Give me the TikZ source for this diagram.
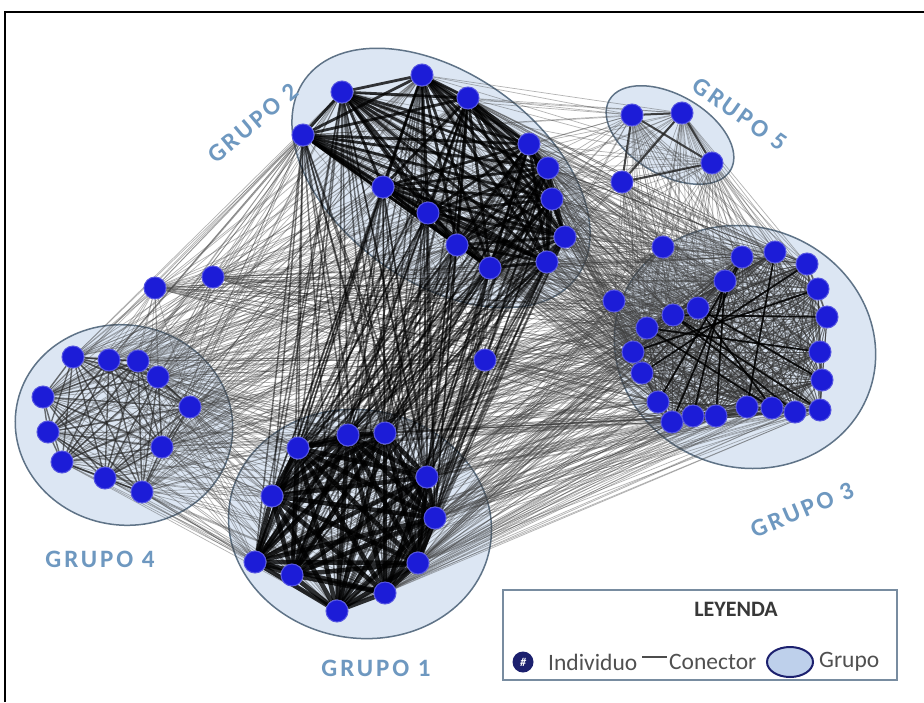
\documentclass[tikz,border=0pt]{standalone}
\usepackage{fontspec}
\usetikzlibrary{shapes.geometric}
\setmainfont{Carlito}
\newfontfamily\grpfont[LetterSpace=12]{Carlito}
\pgfdeclarelayer{bgl}
\pgfdeclarelayer{edgel}
\pgfsetlayers{bgl,edgel,main}
\definecolor{nodeblue}{RGB}{28,28,215}
\definecolor{grpfill}{RGB}{220,230,243}
\definecolor{grpline}{RGB}{95,115,135}
\definecolor{lblblue}{RGB}{110,152,192}
\definecolor{legline}{RGB}{120,140,160}
\definecolor{legtxt}{RGB}{80,80,80}
\definecolor{legnavy}{RGB}{28,32,110}
\definecolor{legfill}{RGB}{190,208,235}
\newcommand\linkall[3]{\foreach \u in #1 {\foreach \v in #2 {\draw[#3] (\u) -- (\v);}}}
\newcommand\mkclique[3]{\foreach \i in {1,...,#2}{\foreach \j in {\i,...,#2}{\ifnum\j>\i\relax\draw[#3] (#1\i) -- (#1\j);\fi}}}
\def\GA{a1,a2,a3,a4,a5,a6,a7,a8,a9,a10,a11}
\def\GB{b1,b2,b3,b4,b5,b6,b7,b8,b9,b10,b11,b12,b13}
\def\GC{c1,c2,c3,c4,c5,c6,c7,c8,c9,c10,c11,c12,c13,c14,c15,c16,c17,c18,c19,c20,c21}
\def\GD{d1,d2,d3,d4,d5,d6,d7,d8,d9,d10,d11}
\def\GE{e1,e2,e3,e4}
\def\GDx{d12,d13}
\def\GDr{d3,d4,d5,d11,d12,d13}
\def\GCl{c15,c16,c17,c18,c19,c20,c21,c1,c14}
\def\Fone{f1}
\def\Frest{f2,f3}
\begin{document}
\begin{tikzpicture}[x=1pt,y=-1pt,
  ind/.style={circle, fill=nodeblue, draw=nodeblue!75!white, line width=1pt, minimum size=22pt, inner sep=0pt},
  grp/.style={fill=grpfill, draw=grpline, line width=1.5pt},
  grplbl/.style={text=lblblue, font=\grpfont\bfseries\fontsize{25}{27}\selectfont, inner sep=0pt},
  eoneA/.style={line width=4.6pt, black, opacity=.8},
  etwoA/.style={line width=2.8pt, black, opacity=.78},
  ethreeA/.style={line width=1pt, black!80, opacity=.65},
  ethreeB/.style={line width=1.8pt, black, opacity=.85},
  efourA/.style={line width=1.4pt, black!85, opacity=.65},
  efiveA/.style={line width=2pt, black!85, opacity=.85},
  xdark/.style={line width=1.5pt, black, opacity=.5},
  xlt/.style={line width=.7pt, black!75, opacity=.4}]
\useasboundingbox (0,0) rectangle (924,702);
\begin{pgfonlayer}{bgl}
  \fill[white] (0,0) rectangle (924,702);
  \draw[line width=2pt] (5,702) -- (5,12) -- (924,12);
  \draw[grp, rotate around={-36:(441,178)}] (441,178) ellipse [x radius=168pt, y radius=104pt];
  \draw[grp, rotate around={-30:(670,135)}] (670,135) ellipse [x radius=70pt, y radius=40pt];
  \draw[grp, rotate around={-20:(745,347)}] (745,347) ellipse [x radius=132pt, y radius=120pt];
  \draw[grp, rotate around={-10:(124,425)}] (124,425) ellipse [x radius=109pt, y radius=100pt];
  \draw[grp, rotate around={-10:(360,524)}] (360,524) ellipse [x radius=132pt, y radius=114pt];
\end{pgfonlayer}
% nodes
\foreach \n/\x/\y in {a1/298/448, a2/348/435, a3/385/433, a4/427/477, a5/272/496, a6/435/518,
  a7/418/563, a8/255/562, a9/292/575, a10/385/593, a11/337/611,
  b1/342/92, b2/422/75, b3/468/98, b4/303/135, b5/529/144, b6/548/168, b7/383/187,
  b8/552/199, b9/428/213, b10/565/237, b11/457/245, b12/490/268, b13/547/262,
  c1/742/257, c2/775/252, c3/807/264, c4/818/289, c5/827/317, c6/820/352, c7/822/380,
  c8/820/410, c9/795/412, c10/772/408, c11/747/407, c12/716/416, c13/693/416, c14/672/422,
  c15/658/402, c16/642/373, c17/633/352, c18/647/328, c19/673/315, c20/698/308, c21/725/281,
  d1/73/357, d2/109/360, d3/138/361, d4/158/377, d5/190/407, d6/43/397, d7/48/432,
  d8/62/462, d9/105/478, d10/142/492, d11/162/447, d12/155/288, d13/213/277,
  e1/632/115, e2/682/113, e3/712/163, e4/622/182,
  f1/485/360, f2/614/301, f3/663/247}
  \node[ind] (\n) at (\x,\y) {};
\begin{pgfonlayer}{edgel}
  % cross links
  \linkall{\GB}{\GC}{xlt}
  \linkall{\GA}{\GC}{xlt}
  \linkall{\GB}{\GD}{xlt}
  \linkall{\GB}{\GE}{xlt}
  \linkall{\GC}{\GE}{xlt}
  \linkall{\GDr}{\GCl}{xlt}
  \linkall{\GDx}{\GD}{xlt}
  \linkall{\GDx}{\GB}{xlt}
  \linkall{\GDx}{\GCl}{xlt}
  \linkall{\GA}{\GD}{xlt}
  \linkall{\Fone}{\GA}{xlt}
  \linkall{\Fone}{\GB}{xlt}
  \linkall{\Fone}{\GC}{xlt}
  \linkall{\Fone}{\GD}{xlt}
  \linkall{\Frest}{\GB}{xlt}
  \linkall{\Frest}{\GC}{xlt}
  \linkall{\Frest}{\GE}{xlt}
  \linkall{\Frest}{\GA}{xlt}
  \draw[xlt] (d12) -- (d13);
  \linkall{\GA}{\GB}{xdark}
  % within groups
  \mkclique{c}{21}{ethreeA}
  \foreach \p/\q in {c19/c8, c19/c9, c18/c10, c21/c13, c21/c12, c1/c14, c3/c16, c2/c11,
     c4/c17, c20/c7, c5/c19, c6/c18, c1/c15, c20/c10}
    \draw[ethreeB] (\p) -- (\q);
  \mkclique{d}{11}{efourA}
  \mkclique{e}{4}{efiveA}
  \mkclique{b}{13}{etwoA}
  \mkclique{a}{11}{eoneA}
\end{pgfonlayer}
% group labels
\node[grplbl, rotate=40] (l2) at (253,123) {GRUPO 2};
\node[grplbl, rotate=-35] (l5) at (740,114) {GRUPO 5};
\node[grplbl, rotate=23] (l3) at (802,510) {GRUPO 3};
\node[grplbl] (l4) at (100,559) {GRUPO 4};
\node[grplbl] (l1) at (376,668) {GRUPO 1};
% legend
\node[draw=legline, line width=2pt, fill=white, minimum width=394pt, minimum height=90pt, inner sep=0pt] (leg) at (700,635) {};
\node[text=legtxt!70!black, font=\bfseries\fontsize{22}{24}\selectfont] (legt) at (736,609) {LEYENDA};
\node[circle, fill=legnavy, minimum size=21pt, inner sep=0pt, text=white, font=\bfseries\itshape\fontsize{12}{12}\selectfont] (legn) at (523,662) {\#};
\node[anchor=west, text=legtxt, font=\fontsize{23.5}{25}\selectfont, inner sep=0pt] (legi) at (548,662) {Individuo};
\coordinate (lgA) at (642,657);
\coordinate (lgB) at (667,657);
\draw[line width=1.5pt, black!70] (lgA) -- (lgB);
\node[anchor=west, text=legtxt, font=\fontsize{23.5}{25}\selectfont, inner sep=0pt] (legc) at (669,662) {Conector};
\node[ellipse, fill=legfill, draw=legnavy, line width=2pt, minimum width=46pt, minimum height=30pt, inner sep=0pt] (lege) at (790,662) {};
\node[anchor=west, text=legtxt, font=\fontsize{23.5}{25}\selectfont, inner sep=0pt] (legg) at (819,662) {Grupo};
\end{tikzpicture}
\end{document}
